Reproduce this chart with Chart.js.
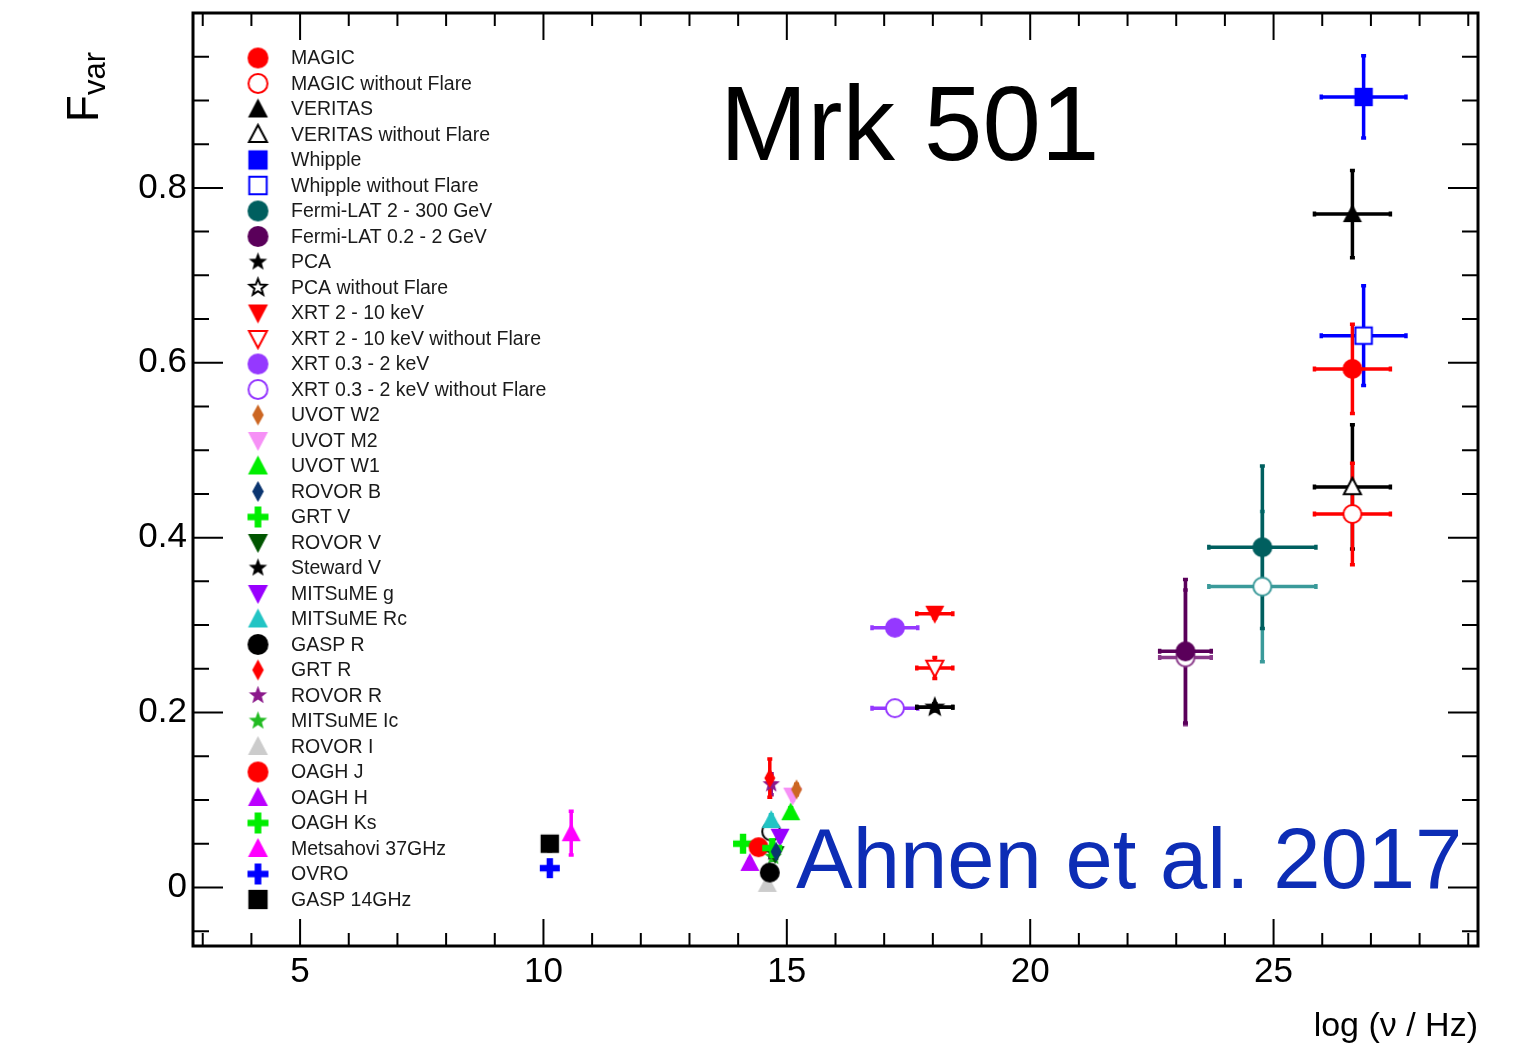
<!DOCTYPE html>
<html>
<head>
<meta charset="utf-8">
<script src="https://cdn.jsdelivr.net/npm/chart.js@4.4.0/dist/chart.umd.min.js"></script>
<style>
  body { margin: 0; background: #fff; }
</style>
</head>
<body>
<canvas id="sed" width="1516" height="1049"></canvas>
<script>
// series names; the first 34 are listed in the legend
const seriesNames = [
  'MAGIC', 'MAGIC without Flare', 'VERITAS', 'VERITAS without Flare',
  'Whipple', 'Whipple without Flare', 'Fermi-LAT 2 - 300 GeV', 'Fermi-LAT 0.2 - 2 GeV',
  'PCA', 'PCA without Flare', 'XRT 2 - 10 keV', 'XRT 2 - 10 keV without Flare',
  'XRT 0.3 - 2 keV', 'XRT 0.3 - 2 keV without Flare', 'UVOT W2', 'UVOT M2',
  'UVOT W1', 'ROVOR B', 'GRT V', 'ROVOR V', 'Steward V', 'MITSuME g',
  'MITSuME Rc', 'GASP R', 'GRT R', 'ROVOR R', 'MITSuME Ic', 'ROVOR I',
  'OAGH J', 'OAGH H', 'OAGH Ks', 'Metsahovi 37GHz', 'OVRO', 'GASP 14GHz',
  'Fermi-LAT 2 - 300 GeV without Flare', 'Fermi-LAT 0.2 - 2 GeV without Flare', 'GASP R without Flare'
];
const legendCount = 34;

// log(nu/Hz)
const logNu = [
  26.62, 26.62, 26.62, 26.62, 26.85, 26.85, 24.77, 23.19,
  18.04, 18.04, 18.04, 18.04, 17.22, 17.22, 15.20, 15.12,
  15.08, 14.78, 14.70, 14.76, 14.72, 14.86, 14.68, 14.65,
  14.65, 14.68, 14.72, 14.60, 14.42, 14.24, 14.10, 10.57,
  10.13, 10.13, 24.77, 23.19, 14.68
];
const logNuErr = [
  0.78, 0.78, 0.78, 0.78, 0.87, 0.87, 1.10, 0.53,
  0.37, 0.37, 0.37, 0.37, 0.47, 0.47, 0, 0,
  0, 0, 0, 0, 0, 0, 0, 0,
  0, 0, 0, 0, 0, 0, 0, 0,
  0, 0, 1.10, 0.53, 0
];
// F_var
const fvar = [
  0.593, 0.427, 0.770, 0.458, 0.904, 0.631, 0.389, 0.270,
  0.206, 0.206, 0.313, 0.251, 0.297, 0.205, 0.112, 0.105,
  0.086, 0.041, 0.045, 0.038, 0.040, 0.058, 0.077, 0.017,
  0.125, 0.118, 0.035, 0.004, 0.046, 0.028, 0.050, 0.062,
  0.022, 0.050, 0.344, 0.263, 0.064
];
const fvarErr = [
  0.051, 0.058, 0.050, 0.071, 0.047, 0.057, 0.093, 0.082,
  0.004, 0.004, 0.005, 0.012, 0.003, 0.003, 0.006, 0.005,
  0.005, 0.004, 0.004, 0.004, 0.004, 0.005, 0.006, 0.004,
  0.022, 0.012, 0.004, 0.004, 0.004, 0.004, 0.004, 0.025,
  0.004, 0.008, 0.086, 0.077, 0.004
];

const xTicks = [5, 10, 15, 20, 25];
const yTicks = [0, 0.2, 0.4, 0.6, 0.8];
const yTickLabels = ['0', '0.2', '0.4', '0.6', '0.8'];

// marker: shape, colour, filled
const markers = [
  ['circle', '#ff0000', true], ['circle', '#ff0000', false],
  ['triangle', '#000000', true], ['triangle', '#000000', false],
  ['square', '#0000ff', true], ['square', '#0000ff', false],
  ['circle', '#005f5f', true], ['circle', '#5a005a', true],
  ['star', '#000000', true], ['star', '#000000', false],
  ['down', '#ff0000', true], ['down', '#ff0000', false],
  ['circle', '#9538ff', true], ['circle', '#9538ff', false],
  ['diamond', '#cc6622', true], ['down', '#f690f6', true],
  ['triangle', '#00ee00', true], ['diamond', '#0b3570', true],
  ['plus', '#00ee00', true], ['down', '#005500', true],
  ['star', '#000000', true], ['down', '#9900ff', true],
  ['triangle', '#22c4c4', true], ['circle', '#000000', true],
  ['diamond', '#ff0000', true], ['star', '#8b1a8b', true],
  ['star', '#22bb22', true], ['triangle', '#cccccc', true],
  ['circle', '#ff0000', true], ['triangle', '#bb00ff', true],
  ['plus', '#00ee00', true], ['triangle', '#ff00ff', true],
  ['plus', '#0000ff', true], ['square', '#000000', true],
  ['circle', '#3a9a9a', false], ['circle', '#8a3a8a', false],
  ['circle', '#000000', false]
];

function makeMarker(shape, color, filled, size) {
  const pad = 3;
  const c = document.createElement('canvas');
  c.width = size + pad * 2;
  c.height = size + pad * 2;
  const g = c.getContext('2d');
  const cx = c.width / 2, cy = c.height / 2, r = size / 2 - (filled ? 0 : 1);
  g.beginPath();
  if (shape == 'circle') {
    g.arc(cx, cy, r, 0, Math.PI * 2);
  } else if (shape == 'square') {
    g.rect(cx - r * 0.92, cy - r * 0.92, r * 1.84, r * 1.84);
  } else if (shape == 'triangle') {
    g.moveTo(cx, cy - r);
    g.lineTo(cx + r * 0.95, cy + r * 0.8);
    g.lineTo(cx - r * 0.95, cy + r * 0.8);
    g.closePath();
  } else if (shape == 'down') {
    g.moveTo(cx, cy + r);
    g.lineTo(cx + r * 0.95, cy - r * 0.8);
    g.lineTo(cx - r * 0.95, cy - r * 0.8);
    g.closePath();
  } else if (shape == 'star') {
    const ro = r * 0.92, ri = ro * 0.42;
    for (let k = 0; k < 10; k++) {
      const a = -Math.PI / 2 + k * Math.PI / 5;
      const rr = k % 2 ? ri : ro;
      g.lineTo(cx + rr * Math.cos(a), cy + rr * Math.sin(a));
    }
    g.closePath();
  } else if (shape == 'diamond') {
    g.moveTo(cx, cy - r);
    g.lineTo(cx + r * 0.55, cy);
    g.lineTo(cx, cy + r);
    g.lineTo(cx - r * 0.55, cy);
    g.closePath();
  } else if (shape == 'plus') {
    const w = r * 0.32;
    g.rect(cx - r, cy - w, 2 * r, 2 * w);
    g.rect(cx - w, cy - r, 2 * w, 2 * r);
  }
  if (filled) {
    g.fillStyle = color;
    g.fill();
  } else {
    g.fillStyle = '#ffffff';
    g.fill();
    g.lineWidth = 2;
    g.strokeStyle = color;
    g.stroke();
  }
  return c;
}

const plotMarkers = markers.map(m => makeMarker(m[0], m[1], m[2], 20));
const legendMarkers = markers.map(m => makeMarker(m[0], m[1], m[2], 21));

const datasets = seriesNames.map((name, i) => ({
  label: name,
  data: [{ x: logNu[i], y: fvar[i] }],
  pointStyle: plotMarkers[i],
  pointRadius: 10,
  showLine: false
}));

const FONT = '"Liberation Sans", Arial, Helvetica, sans-serif';

const errorBars = {
  id: 'errorBars',
  beforeDatasetsDraw(chart) {
    const ctx = chart.ctx, xs = chart.scales.x, ys = chart.scales.y;
    ctx.save();
    ctx.lineWidth = 3.5;
    for (let i = seriesNames.length - 1; i >= 0; i--) {
      const col = markers[i][1];
      ctx.strokeStyle = col;
      const px = xs.getPixelForValue(logNu[i]);
      const py = ys.getPixelForValue(fvar[i]);
      ctx.beginPath();
      if (logNuErr[i] > 0) {
        const x0 = xs.getPixelForValue(logNu[i] - logNuErr[i]);
        const x1 = xs.getPixelForValue(logNu[i] + logNuErr[i]);
        ctx.moveTo(x0, py); ctx.lineTo(x1, py);
        ctx.moveTo(x0, py - 2.5); ctx.lineTo(x0, py + 2.5);
        ctx.moveTo(x1, py - 2.5); ctx.lineTo(x1, py + 2.5);
      }
      if (fvarErr[i] > 0) {
        const y0 = ys.getPixelForValue(fvar[i] - fvarErr[i]);
        const y1 = ys.getPixelForValue(fvar[i] + fvarErr[i]);
        ctx.moveTo(px, y0); ctx.lineTo(px, y1);
        ctx.moveTo(px - 2.5, y0); ctx.lineTo(px + 2.5, y0);
        ctx.moveTo(px - 2.5, y1); ctx.lineTo(px + 2.5, y1);
      }
      ctx.stroke();
    }
    ctx.restore();
  }
};

const frameAndText = {
  id: 'frameAndText',
  afterDraw(chart) {
    const ctx = chart.ctx, a = chart.chartArea;
    const xs = chart.scales.x, ys = chart.scales.y;
    ctx.save();
    // ticks (inside the frame)
    ctx.strokeStyle = '#000';
    ctx.lineWidth = 2;
    ctx.beginPath();
    for (let v = 3; v <= 29; v++) {
      const p = xs.getPixelForValue(v);
      const len = v % 5 == 0 ? 27 : 13;
      ctx.moveTo(p, a.bottom); ctx.lineTo(p, a.bottom - len);
      ctx.moveTo(p, a.top); ctx.lineTo(p, a.top + len);
    }
    for (let k = -1; k <= 19; k++) {
      const v = k * 0.05;
      const p = ys.getPixelForValue(v);
      const len = k % 4 == 0 ? 30 : 16;
      ctx.moveTo(a.left, p); ctx.lineTo(a.left + len, p);
      ctx.moveTo(a.right, p); ctx.lineTo(a.right - len, p);
    }
    ctx.stroke();
    // frame
    ctx.lineWidth = 3;
    ctx.strokeRect(a.left, a.top, a.right - a.left, a.bottom - a.top);

    // legend
    ctx.textBaseline = 'middle';
    ctx.textAlign = 'left';
    ctx.font = '19.5px ' + FONT;
    ctx.fillStyle = '#1a1a1a';
    for (let i = 0; i < legendCount; i++) {
      const y = 58 + i * 25.5;
      const m = legendMarkers[i];
      ctx.drawImage(m, 258 - m.width / 2, y - m.height / 2);
      ctx.fillText(seriesNames[i], 291, y + 1);
    }

    // annotations
    ctx.textBaseline = 'alphabetic';
    ctx.fillStyle = '#000';
    ctx.font = '105px ' + FONT;
    ctx.fillText('Mrk 501', 720, 160);
    ctx.fillStyle = '#0d2db5';
    ctx.font = '85px ' + FONT;
    ctx.fillText('Ahnen et al. 2017', 796, 888);

    // axis titles
    ctx.fillStyle = '#000';
    ctx.textAlign = 'right';
    ctx.font = '34px ' + FONT;
    ctx.fillText('log (\u03bd / Hz)', 1478, 1036);

    ctx.translate(98, 122);
    ctx.rotate(-Math.PI / 2);
    ctx.textAlign = 'left';
    ctx.font = '44px ' + FONT;
    ctx.fillText('F', 0, 0);
    ctx.font = '31px ' + FONT;
    ctx.fillText('var', 27, 7);
    ctx.restore();
  }
};

new Chart(document.getElementById('sed'), {
  type: 'scatter',
  data: { datasets: datasets },
  options: {
    responsive: false,
    animation: false,
    devicePixelRatio: 1,
    layout: { padding: { top: 13, right: 38, left: 0, bottom: 0 } },
    plugins: { legend: { display: false }, tooltip: { enabled: false } },
    scales: {
      x: {
        type: 'linear',
        min: 2.8,
        max: 29.2,
        grid: { display: false, drawTicks: false },
        border: { display: false },
        afterBuildTicks: s => { s.ticks = xTicks.map(v => ({ value: v })); },
        afterFit: s => { s.height = 103; s.paddingLeft = 0; s.paddingRight = 0; },
        ticks: {
          padding: 5,
          color: '#000',
          font: { family: FONT, size: 35 },
          maxRotation: 0,
          callback: v => String(v)
        }
      },
      y: {
        type: 'linear',
        min: -0.067,
        max: 1.0,
        grid: { display: false, drawTicks: false },
        border: { display: false },
        afterBuildTicks: s => { s.ticks = yTicks.map(v => ({ value: v })); },
        afterFit: s => { s.width = 193; s.paddingTop = 0; s.paddingBottom = 0; },
        ticks: {
          padding: 6,
          color: '#000',
          font: { family: FONT, size: 35 },
          callback: v => yTickLabels[yTicks.indexOf(v)]
        }
      }
    }
  },
  plugins: [errorBars, frameAndText]
});
</script>
</body>
</html>
